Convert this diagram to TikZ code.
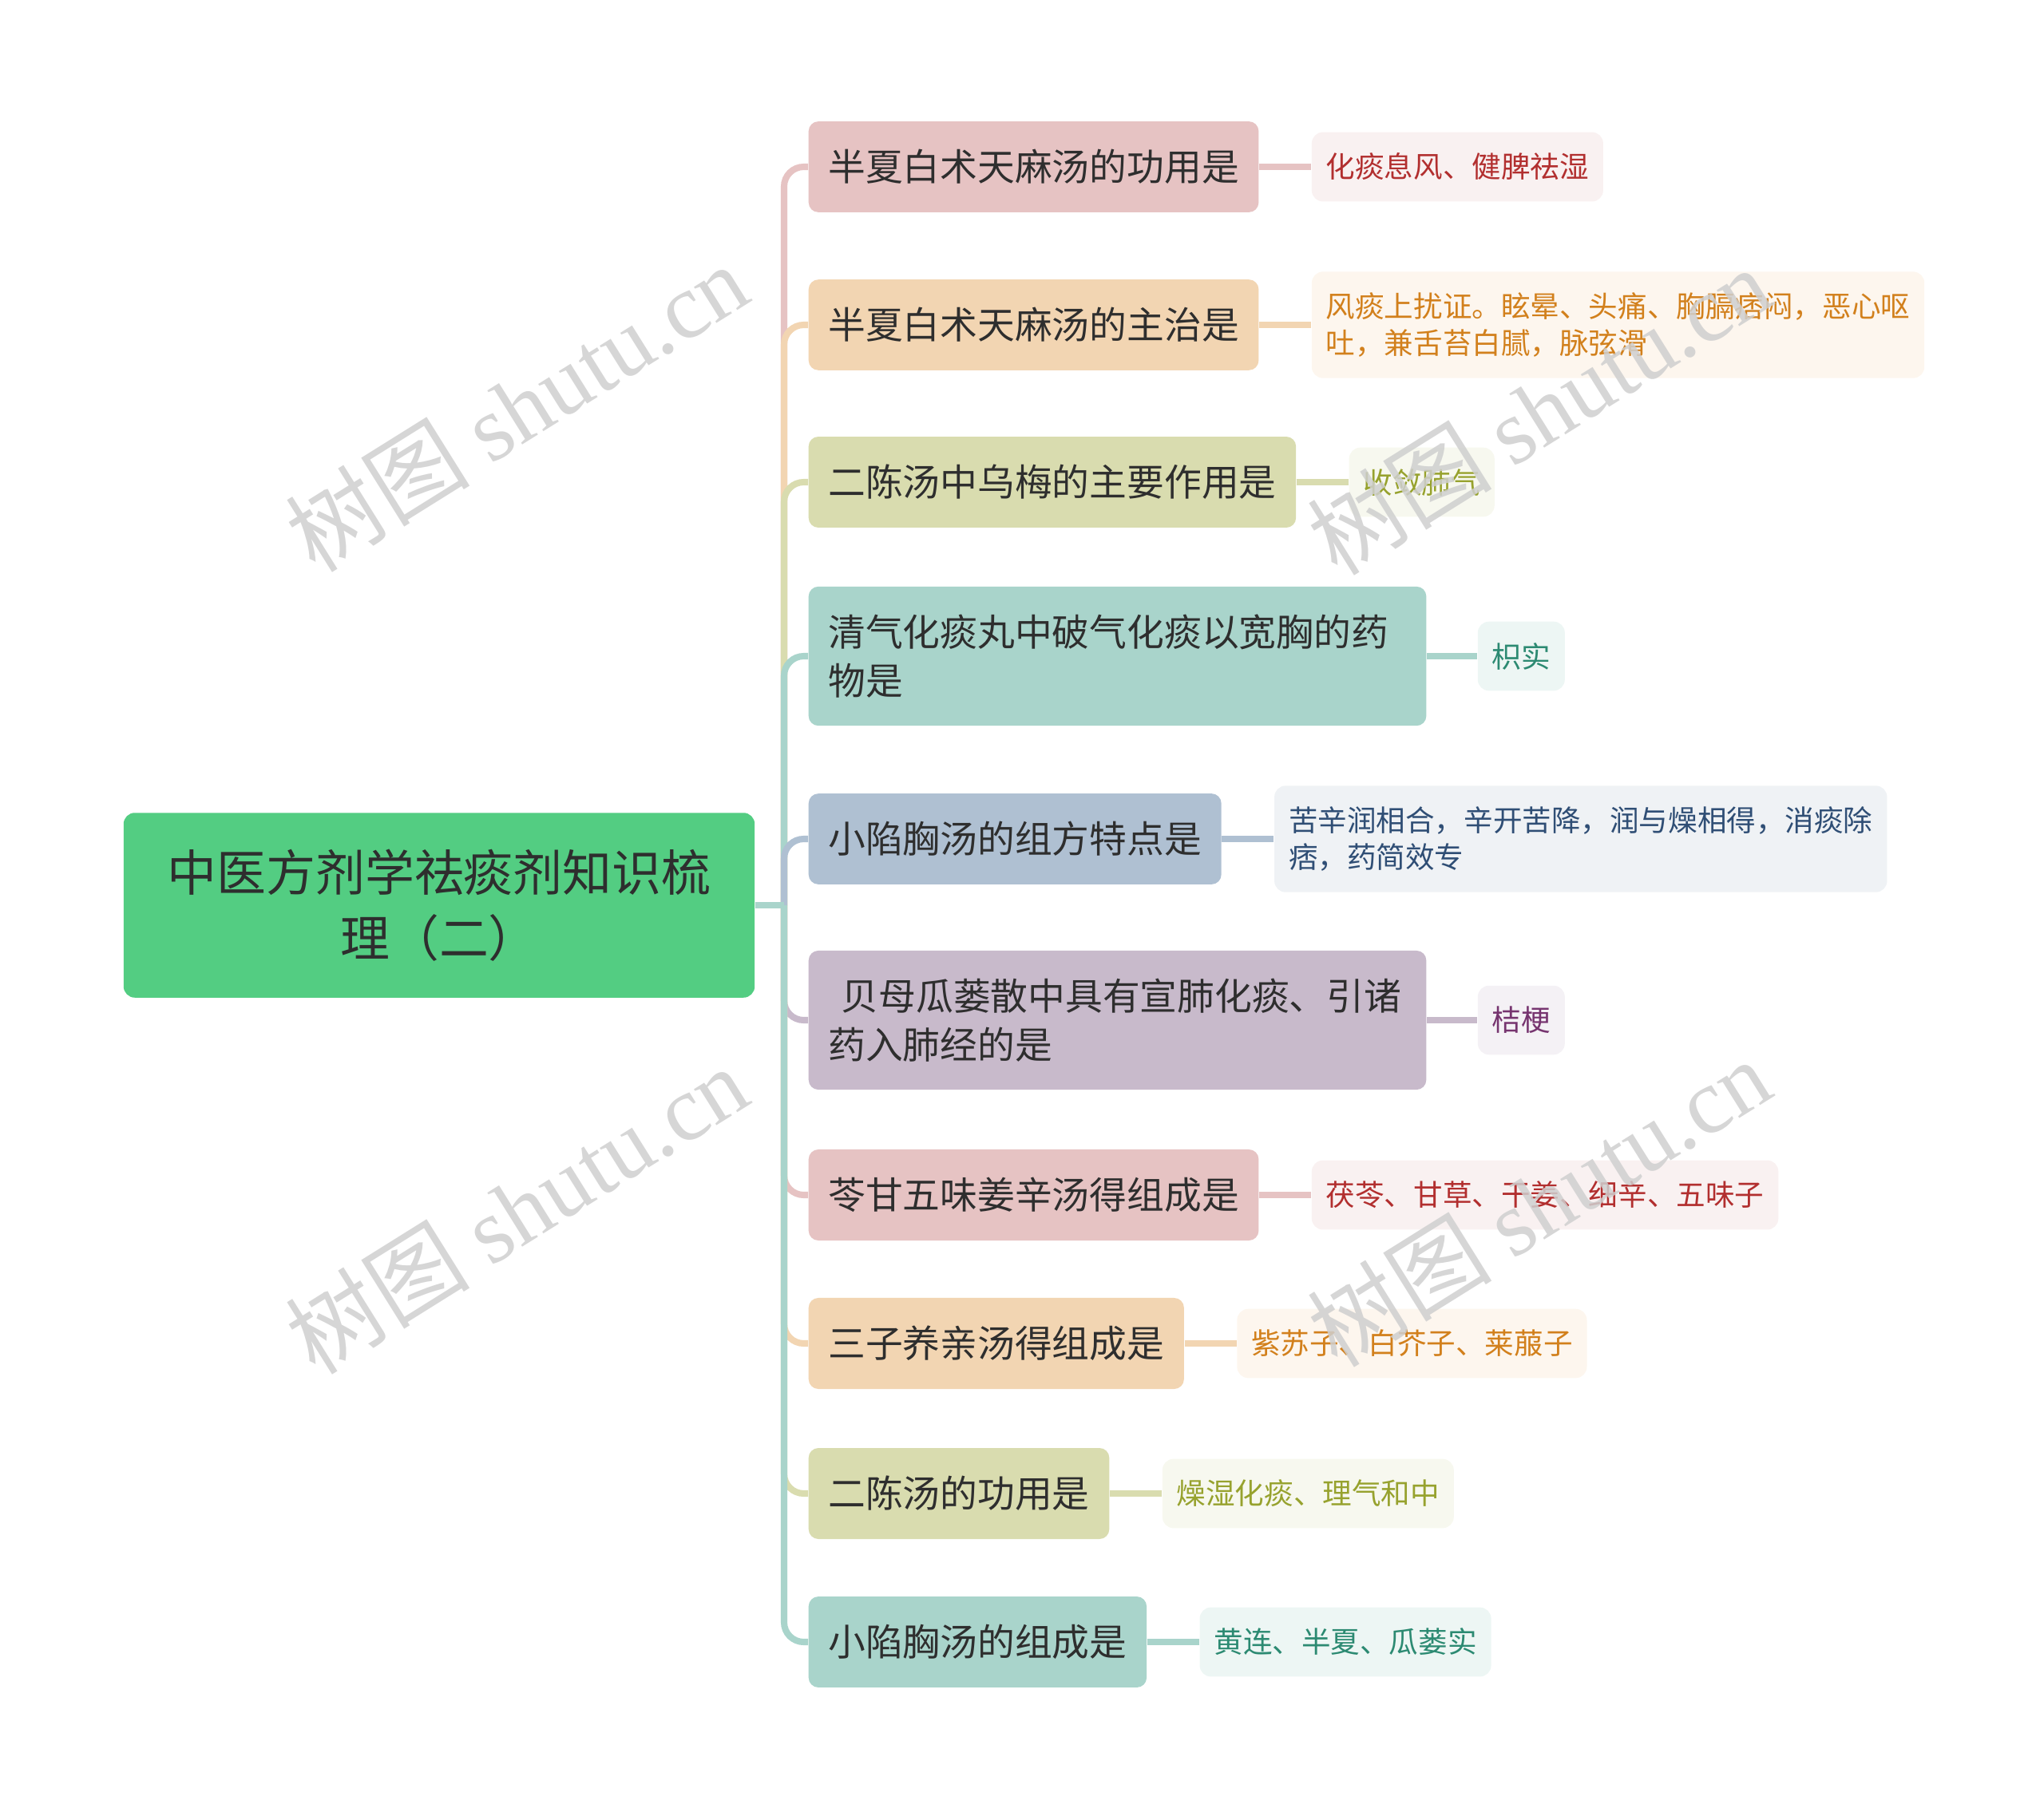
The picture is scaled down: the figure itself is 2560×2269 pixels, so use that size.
\documentclass[tikz,border=0pt]{standalone}
\usepackage{fontspec}
\setmainfont{Noto Sans CJK SC}
\newfontfamily\wmlatin{Liberation Serif}
\usetikzlibrary{positioning}

\definecolor{rootgreen}{HTML}{53CD82}
\definecolor{txtdark}{HTML}{2E2E2E}
\definecolor{wmgray}{HTML}{CFCFCF}
\definecolor{pinkbox}{HTML}{E6C3C3}
\definecolor{pinkleaf}{HTML}{F9F1F1}
\definecolor{pinktxt}{HTML}{B22F2F}
\definecolor{peachbox}{HTML}{F2D5B2}
\definecolor{peachleaf}{HTML}{FDF6EE}
\definecolor{peachtxt}{HTML}{D2801C}
\definecolor{olivebox}{HTML}{D9DCAF}
\definecolor{oliveleaf}{HTML}{F7F8EF}
\definecolor{olivetxt}{HTML}{97A22E}
\definecolor{tealbox}{HTML}{A9D4CB}
\definecolor{tealleaf}{HTML}{EDF6F4}
\definecolor{tealtxt}{HTML}{2C8A72}
\definecolor{bluebox}{HTML}{AFC0D2}
\definecolor{blueleaf}{HTML}{EFF2F5}
\definecolor{bluetxt}{HTML}{2F4E75}
\definecolor{mauvebox}{HTML}{C8BACB}
\definecolor{mauveleaf}{HTML}{F4F1F5}
\definecolor{mauvetxt}{HTML}{76346F}

\tikzset{
  rootbox/.style={fill=rootgreen, text=txtdark, rounded corners=4pt, align=center,
    minimum width=7.9cm, inner sep=13pt,
    font=\fontsize{17.6pt}{23.2pt}\selectfont},
  branch/.style={fill=#1, text=txtdark, rounded corners=3.5pt, align=left,
    anchor=west, inner xsep=7pt, inner ysep=10pt, minimum height=31pt,
    font=\fontsize{13.3pt}{17.2pt}\selectfont},
  leaf/.style 2 args={fill=#1, text=#2, rounded corners=4pt, align=left,
    inner xsep=5.1pt, inner ysep=7.5pt, minimum height=24.2pt,
    font=\fontsize{10.4pt}{13pt}\selectfont},
  edge/.style={draw=#1, line width=2.3pt, rounded corners=7pt},
  watermark/.style={text=wmgray, opacity=0.85, rotate=32,
    font=\fontsize{33pt}{35pt}\selectfont},
}

\begin{document}
\begin{tikzpicture}[x=0.01cm, y=-0.01cm]
\useasboundingbox (0,0) rectangle (2560,2269);

\node[rootbox] (root) at (550,1134) {中医方剂学祛痰剂知识梳\\理（二）};
\coordinate (trunk) at (982,1134);

% questions
\node[branch=pinkbox] (b1) at (1012,209) {半夏白术天麻汤的功用是};
\node[branch=peachbox] (b2) at (1012,407) {半夏白术天麻汤的主治是};
\node[branch=olivebox] (b3) at (1012,604) {二陈汤中乌梅的主要作用是};
\node[branch=tealbox, text width=206pt] (b4) at (1012,822) {清气化痰丸中破气化痰以宽胸的药\\物是};
\node[branch=bluebox] (b5) at (1012,1051) {小陷胸汤的组方特点是};
\node[branch=mauvebox, text width=206pt] (b6) at (1012,1278) {\hspace*{0.35em}贝母瓜蒌散中具有宣肺化痰、引诸\\药入肺经的是};
\node[branch=pinkbox] (b7) at (1012,1497) {苓甘五味姜辛汤得组成是};
\node[branch=peachbox] (b8) at (1012,1683) {三子养亲汤得组成是};
\node[branch=olivebox] (b9) at (1012,1871) {二陈汤的功用是};
\node[branch=tealbox] (b10) at (1012,2057) {小陷胸汤的组成是};

% answers
\node[leaf={pinkleaf}{pinktxt}, right=0.65cm of b1] (l1) {化痰息风、健脾祛湿};
\node[leaf={peachleaf}{peachtxt}, right=0.65cm of b2] (l2) {风痰上扰证。眩晕、头痛、胸膈痞闷，恶心呕\\吐，兼舌苔白腻，脉弦滑};
\node[leaf={oliveleaf}{olivetxt}, right=0.65cm of b3] (l3) {收敛肺气};
\node[leaf={tealleaf}{tealtxt}, right=0.63cm of b4] (l4) {枳实};
\node[leaf={blueleaf}{bluetxt}, right=0.65cm of b5] (l5) {苦辛润相合，辛开苦降，润与燥相得，消痰除\\痞，药简效专};
\node[leaf={mauveleaf}{mauvetxt}, right=0.63cm of b6] (l6) {桔梗};
\node[leaf={pinkleaf}{pinktxt}, right=0.65cm of b7] (l7) {茯苓、甘草、干姜、细辛、五味子};
\node[leaf={peachleaf}{peachtxt}, right=0.65cm of b8] (l8) {紫苏子、白芥子、莱菔子};
\node[leaf={oliveleaf}{olivetxt}, right=0.65cm of b9] (l9) {燥湿化痰、理气和中};
\node[leaf={tealleaf}{tealtxt}, right=0.65cm of b10] (l10) {黄连、半夏、瓜蒌实};

% connectors
\foreach \i/\c in {1/pinkbox,2/peachbox,3/olivebox,4/tealbox,5/bluebox,
                   6/mauvebox,7/pinkbox,8/peachbox,9/olivebox,10/tealbox} {
  \draw[edge=\c] (trunk) |- (b\i.west);
  \draw[edge=\c] (b\i.east) -- (l\i.west);
}
\draw[edge=tealbox] (root.east) -- (trunk);

% watermarks
\foreach \p [count=\k] in {(647,510),(1927,514),(647,1515),(1927,1506)}
  \node[watermark] (wm\k) at \p {树图 {\wmlatin shutu.cn}};

\end{tikzpicture}
\end{document}
